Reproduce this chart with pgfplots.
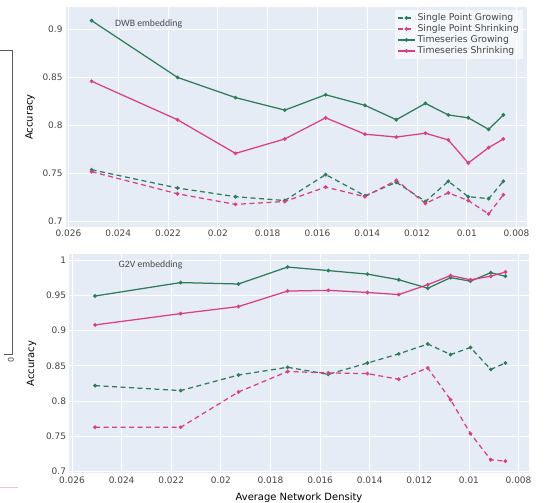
\documentclass[border=0pt]{standalone}
\usepackage{pgfplots}
\usepackage{pgfplotstable}
\pgfplotsset{compat=1.18}
\usepackage{fontspec}
\setmainfont{DejaVu Sans}
\newfontfamily\annfont{Carlito}
\definecolor{bgc}{RGB}{229,236,246}
\definecolor{grn}{HTML}{2E7D55}
\definecolor{pnk}{HTML}{D93F84}
\definecolor{txt}{HTML}{444444}

\pgfplotstableread{
x tsg tss spg sps
0.02507 0.909 0.846 0.754 0.752
0.02162 0.850 0.806 0.735 0.729
0.01929 0.829 0.771 0.726 0.718
0.01731 0.816 0.786 0.722 0.721
0.01567 0.832 0.808 0.749 0.736
0.01409 0.821 0.791 0.727 0.726
0.01283 0.806 0.788 0.741 0.743
0.01166 0.823 0.792 0.721 0.719
0.01074 0.811 0.785 0.742 0.730
0.00994 0.808 0.761 0.726 0.722
0.00912 0.796 0.777 0.724 0.708
0.00853 0.811 0.786 0.742 0.728
}\dwb

\pgfplotstableread{
x tsg tss spg sps
0.02507 0.949 0.908 0.822 0.763
0.02162 0.968 0.924 0.815 0.763
0.01929 0.966 0.934 0.837 0.813
0.01731 0.990 0.956 0.848 0.842
0.01567 0.985 0.957 0.838 0.840
0.01409 0.980 0.954 0.854 0.839
0.01283 0.972 0.951 0.867 0.831
0.01166 0.960 0.965 0.881 0.847
0.01074 0.975 0.978 0.866 0.802
0.00994 0.970 0.972 0.876 0.754
0.00912 0.982 0.977 0.845 0.717
0.00853 0.977 0.983 0.854 0.715
}\gtv

\pgfplotsset{
  common/.style={
    scale only axis,
    anchor=south west,
    x dir=reverse,
    xmin=0.0076, xmax=0.0261,
    scaled x ticks=false, scaled y ticks=false,
    xtick={0.026,0.024,0.022,0.020,0.018,0.016,0.014,0.012,0.010,0.008},
    xticklabels={0.026,0.024,0.022,0.02,0.018,0.016,0.014,0.012,0.01,0.008},
    axis background/.style={fill=bgc},
    axis line style={draw=none},
    grid=major,
    major grid style={white, line width=0.9bp},
    major tick length=0pt,
    tick label style={font=\fontsize{9}{10}\selectfont, text=txt},
    label style={font=\fontsize{11}{12}\selectfont, text=txt},
    /pgf/number format/assume math mode=true,
    every axis plot/.append style={line width=1.25bp},
  },
  spg/.style={grn, dash pattern=on 5bp off 3.5bp, mark=*, mark size=1.2bp, mark options={solid, fill=grn!80!black, draw=none}},
  sps/.style={pnk, dash pattern=on 5bp off 3.5bp, mark=*, mark size=1.2bp, mark options={solid, fill=pnk!80!black, draw=none}},
  tsg/.style={grn, solid, mark=*, mark size=1.2bp, mark options={solid, fill=grn!80!black, draw=none}},
  tss/.style={pnk, solid, mark=*, mark size=1.2bp, mark options={solid, fill=pnk!80!black, draw=none}},
}

\begin{document}
\begin{tikzpicture}
\path[use as bounding box] (0,0) rectangle (546bp,503bp);
% cropped remnant of a neighbouring figure
\draw[black!65, line width=0.7bp] (0bp,453bp) -- (12.3bp,453bp) -- (12.3bp,149bp) -- (4bp,149bp);
\node[font=\fontsize{8}{9}\selectfont, text=txt, inner sep=0pt, rotate=90] at (11bp,143bp) {0};
\draw[pnk!35, line width=1bp] (0bp,15bp) -- (18bp,15bp);

\begin{axis}[common,
  at={(66bp,276.3bp)},
  width=460.5bp, height=219.4bp,
  ymin=0.6948, ymax=0.9229,
  ytick={0.7,0.75,0.8,0.85,0.9},
  yticklabels={0.7,0.75,0.8,0.85,0.9},
  ylabel={Accuracy},
  every axis y label/.style={at={(axis description cs:-0.078,0.5)}, rotate=90, anchor=center},
  legend style={at={(axis description cs:0.992,0.99)}, anchor=north east,
    draw=none, fill=white, fill opacity=0.6, text opacity=1,
    font=\fontsize{9.3}{10}\selectfont, text=txt, inner sep=2bp,
    row sep=-1.5bp},
  legend cell align=left,
]
\addplot[spg] table[x=x, y=spg] {\dwb};
\addlegendentry{Single Point Growing}
\addplot[sps] table[x=x, y=sps] {\dwb};
\addlegendentry{Single Point Shrinking}
\addplot[tsg] table[x=x, y=tsg] {\dwb};
\addlegendentry{Timeseries Growing}
\addplot[tss] table[x=x, y=tss] {\dwb};
\addlegendentry{Timeseries Shrinking}
\node[font=\annfont\fontsize{9.8}{11}\selectfont, text=black!70, anchor=west, inner sep=0pt] at (axis description cs:0.1064,0.924) {DWB embedding};
\end{axis}

\begin{axis}[common,
  at={(69.5bp,30bp)},
  width=459bp, height=219bp,
  ymin=0.6982, ymax=1.0085,
  ytick={0.7,0.75,0.8,0.85,0.9,0.95,1},
  yticklabels={0.7,0.75,0.8,0.85,0.9,0.95,1},
  ylabel={Accuracy},
  every axis y label/.style={at={(axis description cs:-0.0825,0.5)}, rotate=90, anchor=center},
  xlabel={Average Network Density},
  every axis x label/.style={at={(axis description cs:0.5,-0.114)}, anchor=center},
]
\addplot[spg] table[x=x, y=spg] {\gtv};
\addplot[sps] table[x=x, y=sps] {\gtv};
\addplot[tsg] table[x=x, y=tsg] {\gtv};
\addplot[tss] table[x=x, y=tss] {\gtv};
\node[font=\annfont\fontsize{9.8}{11}\selectfont, text=black!70, anchor=west, inner sep=0pt] at (axis description cs:0.1068,0.95) {G2V embedding};
\end{axis}
\end{tikzpicture}
\end{document}
